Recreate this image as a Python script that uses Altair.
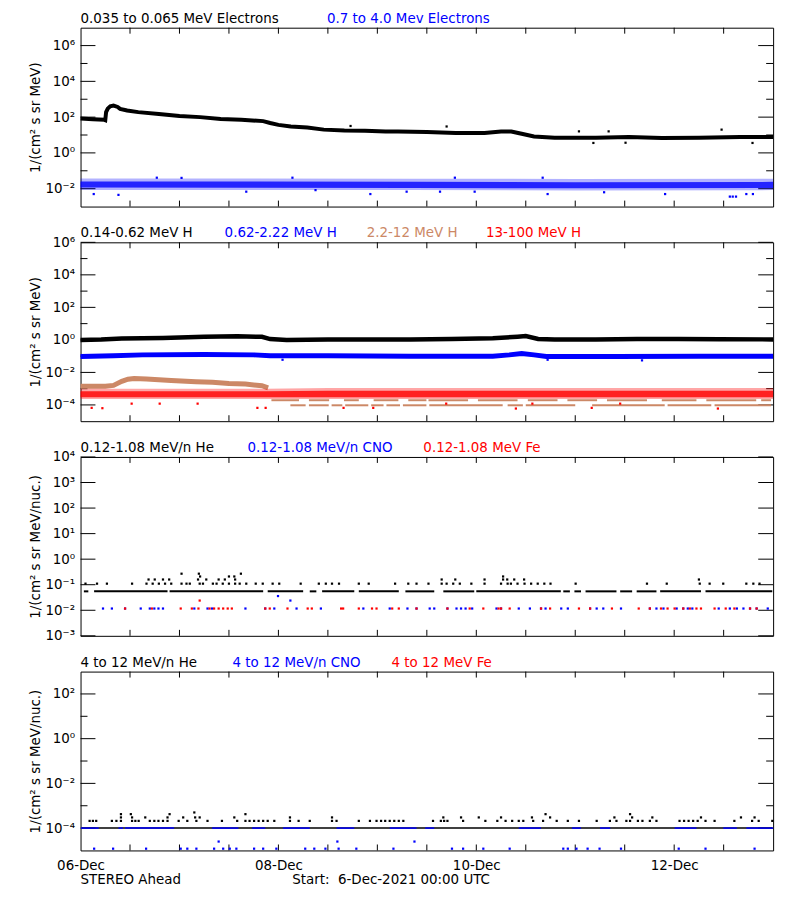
import json
import altair as alt
import pandas as pd

# ------------------------------------------------------------------
# Data (time in hours after 06-Dec-2021 00:00 UTC)
# ------------------------------------------------------------------
# Panel 1: electrons
E_LOW_T = [0, 3, 5.8, 6.0, 6.2, 6.6, 7.2, 8.0, 9.0, 9.6, 11.3, 14, 19, 24, 29, 34, 39, 44.3, 46, 48,
           51, 55, 59, 64, 69, 74, 77, 84, 91, 98, 102, 104.5, 107, 110, 115, 125, 133, 141, 150, 160, 168]
E_LOW_V = [83, 76, 71, 68, 190, 300, 400, 440, 370, 290, 234, 190, 151, 117, 100, 79, 71, 60, 47, 37,
           30, 26, 20, 18, 17.4, 15.8, 15.8, 14.8, 13, 13, 15.8, 15.8, 11.7, 8.3, 7.1, 7.1, 7.8, 6.8, 7.1, 7.8, 7.8]
E_LOW_OUT_T = [65.5, 88.8, 120.9, 124.4, 128.1, 132.2, 155.5, 163]
E_LOW_OUT_V = [32, 30, 16, 3.6, 16, 3.7, 20, 3.6]

E_HIGH_T = [0, 40, 80, 120, 168]
E_HIGH_CORE_LO = [0.0115, 0.0112, 0.011, 0.0105, 0.011]
E_HIGH_CORE_HI = [0.025, 0.025, 0.024, 0.023, 0.024]
E_HIGH_OUTER_LO = [0.0083, 0.0083, 0.0083, 0.008, 0.0083]
E_HIGH_OUTER_HI = [0.037, 0.037, 0.036, 0.035, 0.036]
E_HIGH_OUT_T = [3.2, 9.2, 40.2, 57, 70.3, 79.1, 87.2, 95.6, 113.3, 127, 141.8, 157.5, 158.2, 159, 161.5, 163.1,
                18.5, 24.5, 51.4, 90.8, 112.1]
E_HIGH_OUT_V = [0.005, 0.0045, 0.0068, 0.0083, 0.005, 0.0068, 0.0068, 0.0068, 0.005, 0.0063, 0.005, 0.0036,
                0.0036, 0.0036, 0.005, 0.005, 0.041, 0.04, 0.041, 0.041, 0.041]

# Panel 2: protons
H1_T = [0, 5, 10, 20, 30, 38, 44, 46, 50, 60, 70, 80, 90, 100, 106, 108, 111, 115, 125, 135, 145, 155, 168]
H1_V = [1.0, 1.05, 1.2, 1.3, 1.55, 1.66, 1.55, 1.12, 1.0, 1.05, 1.05, 1.05, 1.15, 1.26, 1.58, 1.74, 1.15,
        1.05, 1.07, 1.15, 1.15, 1.1, 1.07]
H2_T = [0, 8, 15, 30, 42, 46, 60, 80, 100, 104, 107, 110, 113, 130, 150, 168]
H2_V = [0.095, 0.107, 0.12, 0.126, 0.12, 0.105, 0.105, 0.1, 0.1, 0.12, 0.145, 0.12, 0.095, 0.095, 0.1, 0.1]
H2_OUT_T = [49, 113.3, 136.2]
H2_OUT_V = [0.06, 0.06, 0.055]
H3_T = [0, 6, 8, 10, 11.5, 13, 16, 22, 28, 32, 36, 40, 44, 45.5]
H3_V = [0.00141, 0.00141, 0.00158, 0.00282, 0.0038, 0.00417, 0.00398, 0.00316, 0.00269, 0.00251,
        0.00209, 0.00191, 0.00151, 0.00112]
H3_A_LEVEL = 1.95e-4
H3_A_START = [46.3, 55.4, 63.9, 71.1, 79.5, 84.4, 96.4, 108.5, 118.1, 127.7, 141.0, 151.8, 165.1]
H3_A_END = [53.0, 60.3, 67.5, 77.1, 83.9, 94.0, 106.0, 115.7, 125.3, 137.4, 149.4, 163.9, 167.5]
H3_B_LEVEL = 9.5e-5
H3_B_START = [50.9, 55.4, 60.9, 64.2, 70.5, 74.2, 78.2, 84.6, 103.6, 108.0, 124.1, 142.4, 153.8]
H3_B_END = [54.6, 60.2, 63.5, 69.8, 73.5, 77.5, 83.9, 102.4, 107.3, 120.0, 141.7, 153.0, 167.5]
H4_T = [0, 45, 60, 168]
H4_CORE_LO = [3.0e-4, 3.0e-4, 3.0e-4, 3.0e-4]
H4_CORE_HI = [7.0e-4, 7.0e-4, 7.5e-4, 7.5e-4]
H4_OUTER_LO = [2.3e-4, 2.3e-4, 2.3e-4, 2.3e-4]
H4_OUTER_HI = [1.0e-3, 1.0e-3, 1.1e-3, 1.1e-3]
H4_OUT_T = [2.7, 5.3, 12.4, 19.2, 28.4, 42.9, 44.9, 63.8, 71, 88.7, 105.6, 109.6, 124, 130.9, 154.6]
H4_OUT_V = [6.6e-5, 6.3e-5, 1.2e-4, 1.2e-4, 1.2e-4, 6.6e-5, 6.6e-5, 6.6e-5, 6.6e-5, 1.2e-4, 6e-5,
            1.2e-4, 6.6e-5, 1.2e-4, 6e-5]

# Panel 3: 0.12-1.08 MeV/n heavy ions
HE_LO_LEVEL = 0.055
HE_LO_START = [0.81, 3.29, 21.6, 45.4, 55.6, 58.6, 67.5, 78.8, 88.0, 96.0, 117.1, 119.8, 122.5, 130.9, 134.9, 140.6, 151.6]
HE_LO_END = [1.89, 21.1, 44.3, 54.0, 57.2, 66.4, 77.2, 85.8, 95.5, 116.5, 118.7, 121.4, 130.0, 133.8, 139.7, 150.5, 167.8]
HE_LO_011 = [1.2, 4.0, 6.4, 12.5, 16, 17.5, 19, 20.5, 22, 24.5, 25.7, 26.5, 28.9, 29.7, 32.1, 33, 34.5, 36,
             37.5, 38.6, 40.2, 42.5, 44.2, 46.6, 48.2, 53.4, 57.8, 59.5, 61, 62.7, 67.5, 69.9, 76.3, 79.5,
             81.5, 84.4, 87.6, 88.8, 90.4, 92, 94.8, 98, 102, 103.6, 104.4, 106, 107.7, 109.3, 110.9, 112.5,
             114, 120.1, 137.4, 142.2, 150.2, 152.6, 155.9, 161.5, 163.2, 164.7]
HE_LO_016 = [16.5, 18, 20, 21.5, 28.5, 30.5, 33.5, 35, 37.5, 87.6, 90.9, 98, 102.5, 103.5, 105.2, 107.6, 150]
HE_LO_021 = [29, 36, 37.3, 102.5]
HE_LO_027 = [24.5, 28.7, 38.9]
CNO_LO_LEVEL = 0.0117
CNO_LO_T = [5.45, 7.6, 10.8, 14.6, 16.8, 17.9, 18.9, 20.0, 27.6, 30.8, 31.9, 40.0, 44.8, 47.0, 52.4, 58.3,
            68.6, 75.0, 79.3, 81.5, 84.7, 85.8, 89.0, 91.2, 92.3, 93.4, 95.0, 100.9, 102.0, 106.3, 109.0,
            111.7, 112.8, 116.6, 118.2, 123.6, 125.2, 126.8, 131.1, 138.1, 139.7, 141.4, 144.6, 146.2,
            147.3, 148.4, 154.8, 157.5, 159.2, 160.8, 162.4, 164.0, 166.7]
CNO_LO_EXTRA_T = [47.9, 50.9]
CNO_LO_EXTRA_V = [0.036, 0.024]
FE_LO_LEVEL = 0.0117
FE_LO_T = [10.8, 17.3, 24.3, 27.0, 28.6, 31.3, 32.4, 33.5, 34.6, 35.7, 36.7, 44.8, 45.9, 50.2, 55.1, 56.1,
           63.2, 63.7, 67.5, 70.7, 71.8, 75.6, 77.2, 81.5, 89.0, 94.4, 97.7, 101.4, 102.0, 104.1, 111.7,
           113.9, 120.9, 123.6, 128.9, 135.4, 138.1, 140.8, 142.4, 144.1, 146.2, 147.8, 149.4, 150.5,
           153.8, 156.5, 158.6, 162.4, 164.0]
FE_LO_EXTRA_T = [28.9]
FE_LO_EXTRA_V = [0.024]

# Panel 4: 4-12 MeV/n heavy ions
HE_HI_FLOOR = 1e-4
HE_HI_FLOOR_START = [0.3]
HE_HI_FLOOR_END = [167.8]
HE_HI_21 = [2.2, 3.0, 3.8, 7.6, 8.7, 9.8, 12.5, 13.3, 14.1, 16.8, 17.9, 18.9, 20.0, 21.1, 23.8, 25.9, 28.1,
            30.8, 34.3, 38.0, 40.0, 41.0, 42.1, 43.2, 44.3, 45.4, 47.0, 50.8, 52.9, 55.6, 61.0, 62.1, 67.5,
            70.2, 71.8, 72.9, 73.9, 75.0, 76.1, 77.2, 78.3, 85.5, 87.4, 88.2, 89.0, 92.8, 98.2, 101.1, 103.1,
            104.7, 106.3, 107.4, 109.8, 112.2, 115.5, 118.2, 120.9, 125.2, 128.4, 130.0, 132.4, 133.3, 135.2,
            136.3, 138.1, 139.7, 145.3, 146.4, 147.5, 148.6, 149.7, 151.6, 153.8, 158.6, 162.9, 164.5, 167.8]
HE_HI_30 = [9.8, 12.5, 15.7, 21.1, 24.9, 27.8, 28.9, 37.3, 50.8, 61.0, 88.0, 92.3, 96.6, 102.0, 109.5,
            113.9, 129.5, 133.8, 138.7, 150.5, 160.2, 163.5]
HE_HI_42 = [9.8, 12.2, 21.6, 40.0, 112.8, 133.3]
HE_HI_50 = [27.6]
CNO_HI_FLOOR_START = [0.1, 9.2, 10.8, 31.9, 41.6, 49.1, 62.1, 75.0, 83.6, 106.3, 119.2, 126.0, 144.1, 155.9, 161.5]
CNO_HI_FLOOR_END = [4.4, 10.3, 22.7, 38.3, 44.8, 55.6, 66.4, 81.5, 85.8, 111.7, 121.4, 128.5, 149.4, 159.2, 168]
CNO_HI_012 = [3.3, 7.9, 15.9, 24.3, 25.9, 28.1, 32.4, 34.6, 36.2, 37.8, 42.1, 44.3, 47.5, 54.5, 56.7, 59.4,
              62.6, 66.9, 75.9, 90.1, 92.8, 97.7, 104.1, 117.1, 118.2, 120.3, 123.0, 125.9, 131.1, 145.1,
              151.6, 163.5]
CNO_HI_025 = [33.5, 62.3, 81.0]

# Axes
HOURS = [0, 168]
X_TICK_HOURS = [12, 24, 36, 48, 60, 72, 84, 96, 108, 120, 132, 144, 156]
DAY_HOURS = [0, 48, 96, 144]
DAY_LABELS = ["06-Dec", "08-Dec", "10-Dec", "12-Dec"]
EXPONENTS = [-5, -4, -3, -2, -1, 0, 1, 2, 3, 4, 5, 6, 7]

P1_DOMAIN, P1_MAJOR, P1_MINOR = [1e-3, 1e7], [1e-2, 1, 1e2, 1e4, 1e6], [1e-1, 1e1, 1e3, 1e5]
P2_DOMAIN, P2_MAJOR, P2_MINOR = [1e-5, 1e6], [1e-4, 1e-2, 1, 1e2, 1e4, 1e6], [1e-3, 1e-1, 1e1, 1e3, 1e5]
P3_DOMAIN, P3_MAJOR, P3_MINOR = [1e-3, 1e4], [1e-3, 1e-2, 1e-1, 1, 1e1, 1e2, 1e3, 1e4], []
P4_DOMAIN, P4_MAJOR, P4_MINOR = [1e-5, 1e3], [1e-4, 1e-2, 1, 1e2], [1e-3, 1e-1, 1e1]

TITLE_E = "1/(cm² s sr MeV)"
TITLE_N = "1/(cm² s sr MeV/nuc.)"

# ------------------------------------------------------------------
FONT = "DejaVu Sans"
FS = 13.5
BLACK, BLUE, TAN, RED = "#000000", "#0000FF", "#CC8866", "#FF0000"
W, H = 697, 180

SUP = str.maketrans("0123456789-", "⁰¹²³⁴⁵⁶⁷⁸⁹⁻")
YLABELS = ["10" + str(e).translate(SUP) for e in EXPONENTS]
Y_LABEL_EXPR = (json.dumps(YLABELS, ensure_ascii=False)
                + f"[round(log(datum.value) / LN10) + {-EXPONENTS[0]}]")
X_LABEL_EXPR = json.dumps(DAY_LABELS) + "[round(datum.value / 48)]"


class Panel:
    """Holds the shared scales/axes of one panel so every layer uses identical definitions."""

    def __init__(self, dom, major, ytitle, x_labels):
        self.dom = dom
        self.yaxis = alt.Axis(values=major, labelExpr=Y_LABEL_EXPR, ticks=False, domain=False, grid=False,
                              labelPadding=6, labelFontSize=FS, labelFont=FONT, labelColor="black",
                              labelFlush=False, labelOverlap=False, labelBaseline="middle",
                              title=ytitle, titleFont=FONT, titleFontSize=FS, titleFontWeight="normal",
                              titleColor="black", titleX=-45, titleY=H / 2, titleAngle=270,
                              titleAlign="center", titleBaseline="middle")
        if x_labels:
            self.xaxis = alt.Axis(values=DAY_HOURS, labelExpr=X_LABEL_EXPR, ticks=False, domain=False,
                                  grid=False, labelPadding=8, labelFontSize=FS, labelFont=FONT,
                                  labelColor="black", labelFlush=False, labelOverlap=False, title=None)
        else:
            self.xaxis = None

    def X(self):
        return alt.X("h:Q", scale=alt.Scale(domain=HOURS, nice=False, zero=False), axis=self.xaxis)

    def Y(self):
        return alt.Y("v:Q", scale=alt.Scale(type="log", domain=self.dom, nice=False), axis=self.yaxis)

    def line(self, t, v, color, width):
        df = pd.DataFrame({"h": t, "v": v})
        return alt.Chart(df).mark_line(color=color, strokeWidth=width).encode(x=self.X(), y=self.Y())

    def band(self, t, lo, hi, color, opacity):
        df = pd.DataFrame({"h": t, "v": lo, "v2": hi})
        return alt.Chart(df).mark_area(color=color, opacity=opacity).encode(
            x=self.X(), y=self.Y(), y2="v2:Q")

    def dots(self, t, v, color, size=5):
        if not isinstance(v, list):
            v = [v] * len(t)
        df = pd.DataFrame({"h": t, "v": v})
        return alt.Chart(df).mark_square(color=color, size=size, opacity=1).encode(x=self.X(), y=self.Y())

    def segs(self, s, e, level, color, width=2):
        df = pd.DataFrame({"h": s, "h2": e, "v": [level] * len(s)})
        return alt.Chart(df).mark_rule(color=color, strokeWidth=width).encode(
            x=self.X(), x2="h2:Q", y=self.Y())

    def frame(self, major, minor):
        maj = pd.DataFrame({"v": major})
        layers = [
            alt.Chart(maj).mark_rule(color=BLACK).encode(y=self.Y(), x=alt.value(0), x2=alt.value(15)),
            alt.Chart(maj).mark_rule(color=BLACK).encode(y=self.Y(), x=alt.value(W - 15), x2=alt.value(W)),
        ]
        if minor:
            mnr = pd.DataFrame({"v": minor})
            layers += [
                alt.Chart(mnr).mark_rule(color=BLACK).encode(y=self.Y(), x=alt.value(0), x2=alt.value(7)),
                alt.Chart(mnr).mark_rule(color=BLACK).encode(y=self.Y(), x=alt.value(W - 7), x2=alt.value(W)),
            ]
        xt = pd.DataFrame({"h": X_TICK_HOURS})
        layers += [
            alt.Chart(xt).mark_rule(color=BLACK).encode(x=self.X(), y=alt.value(H - 6), y2=alt.value(H)),
            alt.Chart(xt).mark_rule(color=BLACK).encode(x=self.X(), y=alt.value(0), y2=alt.value(6)),
        ]
        return layers


def label(txt, color, xpx, ypx=-5):
    df = pd.DataFrame({"t": [txt]})
    return alt.Chart(df).mark_text(font=FONT, fontSize=FS, align="left", baseline="alphabetic",
                                   color=color).encode(x=alt.value(xpx), y=alt.value(ypx), text="t:N")


# ---------------- Panel 1 ----------------
P = Panel(P1_DOMAIN, P1_MAJOR, TITLE_E, False)
p1 = alt.layer(
    *P.frame(P1_MAJOR, P1_MINOR),
    P.band(E_HIGH_T, E_HIGH_OUTER_LO, E_HIGH_OUTER_HI, BLUE, 0.3),
    P.band(E_HIGH_T, E_HIGH_CORE_LO, E_HIGH_CORE_HI, BLUE, 0.8),
    P.dots(E_HIGH_OUT_T, E_HIGH_OUT_V, BLUE),
    P.line(E_LOW_T, E_LOW_V, BLACK, 4),
    P.dots(E_LOW_OUT_T, E_LOW_OUT_V, BLACK),
    label("0.035 to 0.065 MeV Electrons", BLACK, 0),
    label("0.7 to 4.0 Mev Electrons", BLUE, 248),
).properties(width=W, height=H)

# ---------------- Panel 2 ----------------
P = Panel(P2_DOMAIN, P2_MAJOR, TITLE_E, False)
p2 = alt.layer(
    *P.frame(P2_MAJOR, P2_MINOR),
    P.line(H1_T, H1_V, BLACK, 4.5),
    P.line(H2_T, H2_V, BLUE, 5),
    P.dots(H2_OUT_T, H2_OUT_V, BLUE),
    P.line(H3_T, H3_V, TAN, 5),
    P.segs(H3_A_START, H3_A_END, H3_A_LEVEL, TAN),
    P.segs(H3_B_START, H3_B_END, H3_B_LEVEL, TAN),
    P.band(H4_T, H4_OUTER_LO, H4_OUTER_HI, RED, 0.35),
    P.band(H4_T, H4_CORE_LO, H4_CORE_HI, RED, 0.8),
    P.dots(H4_OUT_T, H4_OUT_V, RED),
    label("0.14-0.62 MeV H", BLACK, 0),
    label("0.62-2.22 MeV H", BLUE, 145),
    label("2.2-12 MeV H", TAN, 288),
    label("13-100 MeV H", RED, 408),
).properties(width=W, height=H)

# ---------------- Panel 3 ----------------
P = Panel(P3_DOMAIN, P3_MAJOR, TITLE_N, False)
p3 = alt.layer(
    *P.frame(P3_MAJOR, P3_MINOR),
    P.segs(HE_LO_START, HE_LO_END, HE_LO_LEVEL, BLACK),
    P.dots(HE_LO_011, 0.11, BLACK),
    P.dots(HE_LO_016, 0.16, BLACK),
    P.dots(HE_LO_021, 0.21, BLACK),
    P.dots(HE_LO_027, 0.27, BLACK),
    P.dots(CNO_LO_T, CNO_LO_LEVEL, BLUE),
    P.dots(CNO_LO_EXTRA_T, CNO_LO_EXTRA_V, BLUE),
    P.dots(FE_LO_T, FE_LO_LEVEL, RED),
    P.dots(FE_LO_EXTRA_T, FE_LO_EXTRA_V, RED),
    label("0.12-1.08 MeV/n He", BLACK, 0),
    label("0.12-1.08 MeV/n CNO", BLUE, 168),
    label("0.12-1.08 MeV Fe", RED, 345),
).properties(width=W, height=H)

# ---------------- Panel 4 ----------------
P = Panel(P4_DOMAIN, P4_MAJOR, TITLE_N, True)
p4 = alt.layer(
    *P.frame(P4_MAJOR, P4_MINOR),
    P.segs(HE_HI_FLOOR_START, HE_HI_FLOOR_END, HE_HI_FLOOR, BLACK, 1.5),
    P.dots(HE_HI_21, 2.1e-4, BLACK),
    P.dots(HE_HI_30, 3.0e-4, BLACK),
    P.dots(HE_HI_42, 4.2e-4, BLACK),
    P.dots(HE_HI_50, 5.0e-4, BLACK),
    P.segs(CNO_HI_FLOOR_START, CNO_HI_FLOOR_END, HE_HI_FLOOR, BLUE, 1.5),
    P.dots(CNO_HI_012, 1.2e-5, BLUE),
    P.dots(CNO_HI_025, 2.5e-5, BLUE),
    label("4 to 12 MeV/n He", BLACK, 0),
    label("4 to 12 MeV/n CNO", BLUE, 153),
    label("4 to 12 MeV Fe", RED, 313),
    label("STEREO Ahead", BLACK, 0, 214),
    label("Start:\u00a0 6-Dec-2021 00:00 UTC", BLACK, 213, 214),
).properties(width=W, height=H)

chart = alt.vconcat(p1, p2, p3, p4, spacing=36, bounds="flush").properties(
    padding={"left": 20, "top": 0, "right": 8, "bottom": 4}
).configure(font=FONT).configure_view(stroke="black", strokeWidth=1)

chart.save("out.html", embed_options={"renderer": "svg", "actions": False})
